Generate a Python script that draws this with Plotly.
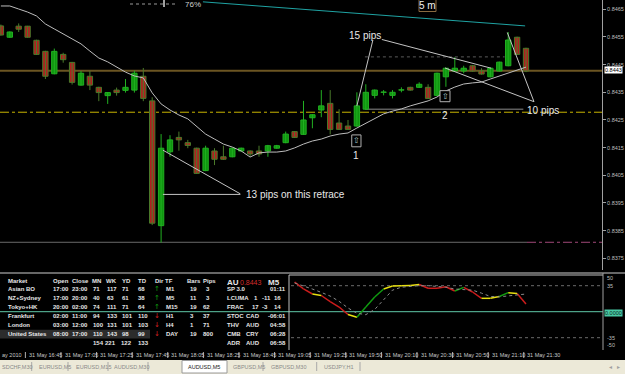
import plotly.graph_objects as go

W, H = 625, 374

# ---------------- data ----------------
bar_index = list(range(60))
opens = [0.84590, 0.84549, 0.84589, 0.84589, 0.84538, 0.84498, 0.84417, 0.84487, 0.84458, 0.84376,
         0.84408, 0.84368, 0.84338, 0.84358, 0.84357, 0.84358, 0.84408, 0.84319, 0.83868, 0.84135,
         0.84187, 0.84168, 0.84148, 0.84067, 0.84138, 0.84117, 0.84117, 0.84138, 0.84138, 0.84138,
         0.84138, 0.84148, 0.84168, 0.84208, 0.84198, 0.84258, 0.84286, 0.84310, 0.84239, 0.84228,
         0.84228, 0.84289, 0.84339, 0.84350, 0.84339, 0.84358, 0.84368, 0.84368, 0.84368, 0.84339,
         0.84406, 0.84427, 0.84427, 0.84446, 0.84427, 0.84406, 0.84427, 0.84446, 0.84549, 0.84509]
highs = [0.84595, 0.84570, 0.84599, 0.84590, 0.84540, 0.84500, 0.84508, 0.84493, 0.84460, 0.84427,
         0.84427, 0.84370, 0.84350, 0.84367, 0.84398, 0.84428, 0.84438, 0.84332, 0.84199, 0.84195,
         0.84208, 0.84178, 0.84150, 0.84157, 0.84148, 0.84157, 0.84150, 0.84150, 0.84140, 0.84157,
         0.84160, 0.84160, 0.84208, 0.84210, 0.84319, 0.84271, 0.84358, 0.84358, 0.84289, 0.84250,
         0.84350, 0.84379, 0.84360, 0.84358, 0.84358, 0.84368, 0.84370, 0.84386, 0.84379, 0.84421,
         0.84439, 0.84477, 0.84446, 0.84448, 0.84437, 0.84439, 0.84461, 0.84568, 0.84551, 0.84511]
lows = [0.84555, 0.84547, 0.84568, 0.84548, 0.84485, 0.84398, 0.84415, 0.84457, 0.84378, 0.84374,
        0.84358, 0.84318, 0.84308, 0.84338, 0.84349, 0.84349, 0.84318, 0.83870, 0.83807, 0.84117,
        0.84139, 0.84148, 0.84055, 0.84065, 0.84087, 0.84106, 0.84115, 0.84136, 0.84117, 0.84117,
        0.84117, 0.84146, 0.84166, 0.84185, 0.84196, 0.84220, 0.84260, 0.84198, 0.84214, 0.84214,
        0.84226, 0.84287, 0.84328, 0.84339, 0.84328, 0.84350, 0.84356, 0.84366, 0.84326, 0.84337,
        0.84370, 0.84425, 0.84419, 0.84425, 0.84414, 0.84404, 0.84425, 0.84444, 0.84485, 0.84423]
closes = [0.84557, 0.84568, 0.84578, 0.84549, 0.84487, 0.84408, 0.84498, 0.84468, 0.84386, 0.84419,
          0.84376, 0.84349, 0.84349, 0.84349, 0.84368, 0.84419, 0.84328, 0.83877, 0.84148, 0.84178,
          0.84178, 0.84158, 0.84057, 0.84148, 0.84108, 0.84108, 0.84148, 0.84148, 0.84127, 0.84127,
          0.84157, 0.84157, 0.84199, 0.84187, 0.84250, 0.84269, 0.84301, 0.84216, 0.84216, 0.84216,
          0.84301, 0.84350, 0.84358, 0.84351, 0.84350, 0.84359, 0.84358, 0.84379, 0.84328, 0.84419,
          0.84437, 0.84437, 0.84437, 0.84427, 0.84416, 0.84437, 0.84459, 0.84539, 0.84487, 0.84427]
ma_values = [0.84662, 0.84662, 0.84651, 0.84640, 0.84626, 0.84597, 0.84579, 0.84561, 0.84543, 0.84525,
             0.84499, 0.84474, 0.84460, 0.84441, 0.84423, 0.84409, 0.84402, 0.84348, 0.84308, 0.84286,
             0.84268, 0.84254, 0.84225, 0.84199, 0.84181, 0.84163, 0.84152, 0.84138, 0.84116, 0.84131,
             0.84134, 0.84134, 0.84138, 0.84149, 0.84163, 0.84174, 0.84181, 0.84192, 0.84199, 0.84203,
             0.84221, 0.84239, 0.84257, 0.84272, 0.84282, 0.84290, 0.84301, 0.84311, 0.84319, 0.84333,
             0.84355, 0.84369, 0.84380, 0.84384, 0.84387, 0.84398, 0.84409, 0.84420, 0.84431, 0.84441]

price_ticks = [0.8375, 0.8385, 0.8395, 0.8405, 0.8415, 0.8425, 0.8435, 0.8445, 0.8455, 0.8465]
bid_line = 0.84428
yellow_level = 0.84278
low_level = 0.83808

time_label_bars = [3, 7, 11, 15, 19, 23, 27, 31, 35, 39, 43, 47, 51, 55, 59]
time_labels = ["31 May 16:45", "31 May 17:05", "31 May 17:25", "31 May 17:45", "31 May 18:05",
               "31 May 18:25", "31 May 18:45", "31 May 19:05", "31 May 19:25", "31 May 19:50",
               "31 May 20:10", "31 May 20:30", "31 May 20:50", "31 May 21:10", "31 May 21:30"]

osc_bars = list(range(33, 60))
osc_main = [40, 30.6, 23.8, 21.8, 13.5, 6.3, -3.8, -7.5, 6.3, 19.8, 30.6, 34.6, 35, 35.3, 36.6,
            31.5, 31.5, 33.6, 27.9, 32.8, 26.5, 18, 18, 20.5, 25.6, 24.5, 10.4]
osc_signal = [38.6, 35, 30.5, 26, 21, 14, 5, -2, -4, 3, 15.7, 29, 33, 34.5, 35,
              35, 34.5, 33, 30.5, 30, 29, 25, 20.5, 20, 21, 22.5, 23.8]
osc_seg_colors = ["r", "r", "y", "r", "r", "r", "y", "g", "g", "g", "y", "y", "y", "y", "r",
                  "r", "r", "r", "g", "r", "r", "y", "y", "g", "y", "r"]
osc_levels = [35, -35]

markets = ["Asian BO", "NZ+Sydney", "Tokyo+HK", "Frankfurt", "London", "United States"]
sess_open = ["17:00", "17:00", "20:00", "02:00", "03:00", "08:00"]
sess_close = ["23:00", "20:00", "02:00", "11:00", "12:00", "17:00"]
col_mn = ["71", "40", "74", "94", "100", "110"]
col_wk = ["117", "63", "111", "133", "131", "143"]
col_yd = ["71", "61", "71", "101", "101", "98"]
col_td = ["68", "38", "64", "110", "103", "99"]
totals = ["154", "221", "122", "133"]
dirs = ["up", "up", "up", "down", "down", "down"]
tfs = ["M1", "M5", "M15", "H1", "H4", "DAY"]
tf_bars = ["19", "11", "19", "3", "1", "19"]
tf_pips = ["3", "3", "62", "37", "71", "800"]
info_rows = [["SP 3.0", "", "", "01:11"], ["LCUMA", "1", "-11", "16"], ["FRAC", "17", "-3", "14"],
             ["STOC", "CAD", "", "-06:01"], ["THV", "AUD", "", "04:58"], ["CMB", "CRY", "", "06:28"],
             ["ADR", "AUD", "", "06:58"]]
tabs = ["SDCHF,M30", "EURUSD,M5", "EURUSD,M15", "AUDUSD,M30", "AUDUSD,M5", "GBPUSD,M5",
        "GBPUSD,M30", "USDJPY,H1"]

# ---------------- layout helpers ----------------
X0, SP, PLOT_R = 0.9, 8.9, 602.0
MAIN_BOTTOM = 270.0
P_TOP, P_BOT = 0.846836, 0.837078
OSC_TOP, OSC_BOT = 275.0, 350.0
O_TOP, O_BOT = 49.39, -51.55


def px(x):
    return x / W


def py(y):
    return 1 - y / H


def bx(x):
    return (x - X0) / SP


def pr(y):
    return P_TOP - y * (P_TOP - P_BOT) / MAIN_BOTTOM


FONT = "Liberation Sans"
annots = []
shapes = []


def T(text, x, y, size=6, color="#e6e6e6", xa="left", ya="middle", bold=False,
      xref="paper", yref="paper", bg=None, family=FONT):
    if xref == "paper":
        x = px(x)
    if yref == "paper":
        y = py(y)
    a = dict(text=("<b>%s</b>" % text) if bold else text, x=x, y=y, xref=xref, yref=yref,
             xanchor=xa, yanchor=ya, showarrow=False, borderpad=0,
             font=dict(size=size, color=color, family=family))
    if bg:
        a["bgcolor"] = bg
    annots.append(a)


def Lpx(x0, y0, x1, y1, color, width=1, dash="solid", layer="above"):
    shapes.append(dict(type="line", xref="paper", yref="paper", x0=px(x0), y0=py(y0),
                       x1=px(x1), y1=py(y1), line=dict(color=color, width=width, dash=dash),
                       layer=layer))


def Ldata(x0, y0, x1, y1, color, width=1, dash="solid", layer="above"):
    shapes.append(dict(type="line", xref="x", yref="y", x0=x0, y0=y0, x1=x1, y1=y1,
                       line=dict(color=color, width=width, dash=dash), layer=layer))


def Rpx(x0, y0, x1, y1, fill, line="rgba(0,0,0,0)", width=1, layer="below"):
    shapes.append(dict(type="rect", xref="paper", yref="paper", x0=px(x0), y0=py(y0),
                       x1=px(x1), y1=py(y1), fillcolor=fill, line=dict(color=line, width=width),
                       layer=layer))


fig = go.Figure()

# ---------------- main chart: candles ----------------
UP_FILL, UP_LINE = "#0f960f", "#22b022"
DN_FILL, DN_LINE = "#b02020", "#4a7a2a"
is_up = [c >= o for o, c in zip(opens, closes)]
for flag, col in [(True, UP_LINE), (False, DN_LINE)]:
    wx, wy = [], []
    for k in bar_index:
        if is_up[k] == flag:
            wx += [k, k, None]
            wy += [lows[k], highs[k], None]
    fig.add_trace(go.Scatter(x=wx, y=wy, mode="lines", line=dict(color=col, width=1),
                             hoverinfo="skip", showlegend=False, xaxis="x", yaxis="y"))
body_base = [min(o, c) for o, c in zip(opens, closes)]
body_len = [max(abs(c - o), 0.000004) for o, c in zip(opens, closes)]
fig.add_trace(go.Bar(x=bar_index, y=body_len, base=body_base, width=0.6,
                     marker=dict(color=[UP_FILL if u else DN_FILL for u in is_up],
                                 line=dict(color=[UP_LINE if u else DN_LINE for u in is_up],
                                           width=1)),
                     hoverinfo="skip", showlegend=False, xaxis="x", yaxis="y"))
fig.add_trace(go.Scatter(x=bar_index, y=ma_values, mode="lines",
                         line=dict(color="#bdbdbd", width=1), hoverinfo="skip",
                         showlegend=False, xaxis="x", yaxis="y"))

# horizontal levels
for lvl, col, w, d in [(bid_line, "#6b5522", 2, "solid"), (yellow_level, "#c8b400", 1, "dashdot")]:
    shapes.append(dict(type="line", xref="paper", yref="y", x0=0, x1=px(PLOT_R), y0=lvl, y1=lvl,
                       line=dict(color=col, width=w, dash=d), layer="below"))
shapes.append(dict(type="line", xref="paper", yref="y", x0=0, x1=px(527), y0=low_level,
                   y1=low_level, line=dict(color="#6a6a6a", width=1), layer="below"))
shapes.append(dict(type="line", xref="paper", yref="y", x0=px(527), x1=px(PLOT_R), y0=low_level,
                   y1=low_level, line=dict(color="#a04878", width=1, dash="dashdot"), layer="below"))

# trend / annotation lines
Ldata(22.7, 0.84677, 58.9, 0.84590, "#1fa3a3", 1)
Ldata(40.9, 0.84478, 56.6, 0.84478, "#5a5a5a", 1, "dot", "below")
Ldata(40.9, 0.84289, 58.7, 0.84289, "#8a8a8a", 1, "solid", "below")
Ldata(41.8, 0.84539, 40.0, 0.84301, "#c4c4c4", 1)
Ldata(42.8, 0.84541, 55.1, 0.84437, "#c4c4c4", 1)
Ldata(56.9, 0.84566, 59.9, 0.84316, "#c4c4c4", 1)
Ldata(49.9, 0.84438, 59.9, 0.84316, "#c4c4c4", 1)
Ldata(18.2, 0.84141, 26.9, 0.83983, "#c4c4c4", 1)
Ldata(18.2, 0.83981, 26.9, 0.83981, "#c4c4c4", 1)

# signal boxes
for (a, b, c, d) in [(39.42, 40.46, 0.84196, 0.84153), (49.34, 50.46, 0.84356, 0.84316)]:
    shapes.append(dict(type="rect", xref="x", yref="y", x0=a, x1=b, y0=c, y1=d,
                       line=dict(color="#b0b0b0", width=1), fillcolor="black", layer="above"))
    T("⇧", (a + b) / 2, (c + d) / 2, size=8, color="#a8c8d0", xa="center", xref="x", yref="y",
      family="DejaVu Sans")

T("15 pips", bx(364.5), pr(35), size=10, color="#e8e8e8", xa="center", xref="x", yref="y")
T("10 pips", bx(543), pr(110), size=10, color="#e8e8e8", xa="center", xref="x", yref="y")
T("13 pips on this retrace", bx(245), pr(194.3), size=10, color="#e8e8e8", xref="x", yref="y")
T("1", bx(356), pr(155), size=10, color="#e8e8e8", xa="center", xref="x", yref="y")
T("2", bx(445), pr(115), size=10, color="#e8e8e8", xa="center", xref="x", yref="y")

# "5 m" and "76%"
Rpx(419, -1, 436, 11.5, "black", "#8a6a40", 1, "above")
T("5 m", 427.5, 5.5, size=10, color="#f0f0f0", xa="center")
Lpx(130, 4, 177, 4, "#9a9a9a", 1, "dot")
Lpx(164, 0, 164, 7, "#a0a0a0", 2)
T("76%", 193, 4.6, size=8, color="#cfcfcf", xa="center")

# current price box
T("0.8443", 603.5, 70.5, size=5.5, color="black", bg="white")

# ---------------- bottom separators / frames ----------------
Lpx(0, 273, W, 273, "#8a8a8a", 1.5)
Lpx(289, 275, 603, 275, "#c0c0c0", 1)
Lpx(289, 275, 289, 350, "#c0c0c0", 1)
Lpx(603, 273, 603, 350, "#a0a0a0", 1)
shapes.append(dict(type="line", xref="paper", yref="y2", x0=0, x1=px(603), y0=0, y1=0,
                   line=dict(color="#5fc8a8", width=1), layer="below"))
for lv in osc_levels:
    shapes.append(dict(type="line", xref="paper", yref="y2", x0=px(291), x1=px(603), y0=lv, y1=lv,
                       line=dict(color="#6a6a6a", width=1, dash="dot"), layer="below"))

# ---------------- oscillator ----------------
cmap = {"r": "#cc1c1c", "y": "#e8e010", "g": "#109a10"}
for key, col in cmap.items():
    xs, ys = [], []
    for i, c in enumerate(osc_seg_colors):
        if c == key:
            xs += [osc_bars[i], osc_bars[i + 1], None]
            ys += [osc_main[i], osc_main[i + 1], None]
    fig.add_trace(go.Scatter(x=xs, y=ys, mode="lines", line=dict(color=col, width=1.5),
                             hoverinfo="skip", showlegend=False, xaxis="x", yaxis="y2"))
fig.add_trace(go.Scatter(x=osc_bars, y=osc_signal, mode="lines",
                         line=dict(color="#8a8a8a", width=1, dash="dot"), hoverinfo="skip",
                         showlegend=False, xaxis="x", yaxis="y2"))

for lab, yy in [("50", 278.3), ("35", 285.7), ("-35", 337.7), ("-50", 345)]:
    T(lab, 606, yy, size=5.5, color="#bdbdbd")
T("0.0000", 604, 312.5, size=5.5, color="#0a2a20", bg="#48c8a4")

# ---------------- table ----------------
Rpx(0, 329.8, 150, 338.6, "#2c2c2c")
row_y = [289.3, 298.3, 307.3, 316.0, 325.0, 334.0]
hdr_y = 280.7
for txt, xx in [("Market", 7.3), ("Open", 51.7), ("Close", 71), ("MN", 91), ("WK", 105.3),
                ("YD", 121.3), ("TD", 136.7), ("Dir", 153.5), ("TF", 163.5), ("Bars", 186.2),
                ("Pips", 201.5)]:
    T(txt, xx, hdr_y, size=6, bold=True)
for i in range(6):
    yy = row_y[i]
    T(markets[i], 7.3, yy, size=6, bold=True)
    T(sess_open[i], 52.3, yy, size=6, bold=True)
    T(sess_close[i], 71, yy, size=6, bold=True)
    T(col_mn[i], 91.5, yy, size=6, bold=True)
    T(col_wk[i], 105.8, yy, size=6, bold=True)
    T(col_yd[i], 121.3, yy, size=6, bold=True)
    T(col_td[i], 136.7, yy, size=6, bold=True)
    if dirs[i] == "up":
        T("↑", 157, yy, size=7, color="#10a010", xa="center", family="DejaVu Sans")
    else:
        T("↓", 157, yy, size=7, color="#d02020", xa="center", family="DejaVu Sans")
    T(tfs[i], 164.7, yy, size=6, bold=True)
    T(tf_bars[i], 188.5, yy, size=6, bold=True)
    T(tf_pips[i], 201.5 if len(tf_pips[i]) > 1 else 204.5, yy, size=6, bold=True)
for txt, xx in zip(totals, [91.5, 104.5, 120.3, 136.7]):
    T(txt, xx, 342.7, size=6, bold=True)

T("AU", 226, 282.8, size=8, bold=True)
T("0.8443", 239.3, 282.8, size=7, color="#d42a2a")
T("M5", 266.7, 282.8, size=8, bold=True)
info_y = [289.3, 298.3, 307.3, 316.0, 325.0, 334.0, 342.7]
for i, r in enumerate(info_rows):
    yy = info_y[i]
    T(r[0], 226, yy, size=6, bold=True)
    if r[2]:
        T(r[1], 250.5 if len(r[1]) > 1 else 252.5, yy, size=6, bold=True)
        T(r[2], 261, yy, size=6, bold=True)
        T(r[3], 272.5, yy, size=6, bold=True)
    else:
        if r[1]:
            T(r[1], 245, yy, size=6, bold=True)
        T(r[3], 269.3 if not r[3].startswith("-") else 266.7, yy, size=6, bold=True)

# ---------------- time axis ----------------
T("ay 2010", 0.5, 355, size=5.5, color="#c8c8c8")
for b, lab in zip(time_label_bars, time_labels):
    shapes.append(dict(type="line", xref="x", yref="paper", x0=b - 0.25, x1=b - 0.25,
                       y0=py(352), y1=py(358), line=dict(color="#b0b0b0", width=1)))
    T(lab, b + 0.05, 355, size=5.5, color="#c8c8c8", xref="x")

# ---------------- tab bar ----------------
Rpx(0, 360, W, H + 1, "#ece9d8", layer="above")
Rpx(182, 360.5, 227, 373, "white", "#9a9a9a", 1, "above")
tab_x = [0.5, 38, 75, 113, 187, 232, 270, 323]
for i, (t, xx) in enumerate(zip(tabs, tab_x)):
    T(t, xx, 366.5, size=5.5, color="#202020" if i == 4 else "#8a8a8a")
for sx in [31.7, 68, 108, 148, 263, 316.7, 360]:
    Lpx(sx, 362, sx, 371, "#a8a8a8", 1)
T("◂", 610, 366.5, size=6, color="#a0a0a0", xa="center", family="DejaVu Sans")
T("▸", 618, 366.5, size=6, color="#a0a0a0", xa="center", family="DejaVu Sans")

# ---------------- axes / layout ----------------
fig.update_layout(
    width=W, height=H, margin=dict(l=0, r=0, t=0, b=0, pad=0),
    paper_bgcolor="black", plot_bgcolor="black", showlegend=False, barmode="overlay",
    xaxis=dict(domain=[0, px(PLOT_R)], range=[bx(0), bx(PLOT_R)], visible=False,
               fixedrange=True),
    yaxis=dict(domain=[py(MAIN_BOTTOM), 1], range=[P_BOT, P_TOP], side="right", anchor="x",
               showgrid=False, zeroline=False, tickvals=price_ticks,
               ticktext=["%.4f" % v for v in price_ticks], ticks="outside", ticklen=3,
               tickcolor="#a0a0a0", tickfont=dict(size=5.5, color="#bdbdbd", family=FONT),
               showline=True, linecolor="#a0a0a0", linewidth=1, fixedrange=True),
    yaxis2=dict(domain=[py(OSC_BOT), py(OSC_TOP)], range=[O_BOT, O_TOP], anchor="x",
                visible=False, fixedrange=True),
    shapes=shapes, annotations=annots,
)

fig.write_html("out.html")
